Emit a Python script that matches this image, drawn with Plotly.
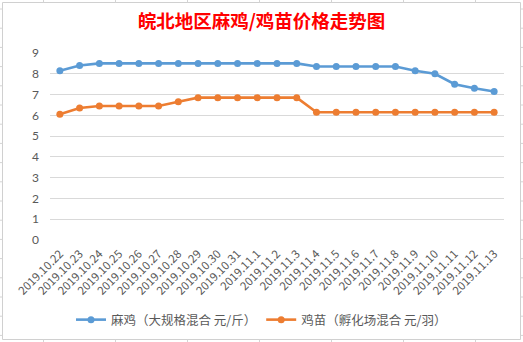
import plotly.graph_objects as go

dates = ["2019.10.22", "2019.10.23", "2019.10.24", "2019.10.25", "2019.10.26", "2019.10.27",
         "2019.10.28", "2019.10.29", "2019.10.30", "2019.10.31", "2019.11.1", "2019.11.2",
         "2019.11.3", "2019.11.4", "2019.11.5", "2019.11.6", "2019.11.7", "2019.11.8",
         "2019.11.9", "2019.11.10", "2019.11.11", "2019.11.12", "2019.11.13"]
maji = [8.15, 8.4, 8.5, 8.5, 8.5, 8.5, 8.5, 8.5, 8.5, 8.5, 8.5, 8.5, 8.5,
        8.35, 8.35, 8.35, 8.35, 8.35, 8.15, 8.0, 7.5, 7.3, 7.15]
jimiao = [6.05, 6.35, 6.45, 6.45, 6.45, 6.45, 6.65, 6.85, 6.85, 6.85, 6.85, 6.85, 6.85,
          6.15, 6.15, 6.15, 6.15, 6.15, 6.15, 6.15, 6.15, 6.15, 6.15]
name1 = "麻鸡（大规格混合 元/斤）"
name2 = "鸡苗（孵化场混合 元/羽）"
title = "皖北地区麻鸡/鸡苗价格走势图"
yticks = list(range(0, 10))

W, H = 523, 342
L, R, T, B = 50, 19, 53, 102
pw, ph = W - L - R, H - T - B

def px(x):
    return (x - L) / pw

def py(y):
    return (H - B - y) / ph

fig = go.Figure()
fig.add_trace(go.Scatter(x=list(range(len(dates))), y=maji, name=name1, mode="lines+markers",
                         line=dict(color="#5B9BD5", width=2.6),
                         marker=dict(color="#5B9BD5", size=7)))
fig.add_trace(go.Scatter(x=list(range(len(dates))), y=jimiao, name=name2, mode="lines+markers",
                         line=dict(color="#ED7D31", width=2.6),
                         marker=dict(color="#ED7D31", size=7)))

shapes = []
shapes.append(dict(type="rect", xref="paper", yref="paper", x0=px(2.5), x1=px(520.5),
                   y0=py(339.5), y1=py(2.5), line=dict(color="#D0D0D0", width=1),
                   fillcolor="rgba(0,0,0,0)", layer="below"))
for gx in [43, 115, 187, 259, 331, 403, 475]:
    shapes.append(dict(type="line", xref="paper", yref="paper", x0=px(gx + 0.5), x1=px(gx + 0.5),
                       y0=py(0), y1=py(2.5), line=dict(color="#D4D4D4", width=1)))
    shapes.append(dict(type="line", xref="paper", yref="paper", x0=px(gx + 0.5), x1=px(gx + 0.5),
                       y0=py(339.5), y1=py(342), line=dict(color="#D4D4D4", width=1)))
for k in range(18):
    gy = 9 + k * 19.2
    for xa, xb in [(0, 2.5), (520.5, 523)]:
        shapes.append(dict(type="line", xref="paper", yref="paper", x0=px(xa), x1=px(xb),
                           y0=py(gy), y1=py(gy), line=dict(color="#D4D4D4", width=1)))

fig.update_layout(
    width=W, height=H,
    margin=dict(l=L, r=R, t=T, b=B),
    paper_bgcolor="white", plot_bgcolor="white",
    title=dict(text=title, x=0.5, xref="container", xanchor="center",
               y=1 - 22 / H, yref="container", yanchor="middle",
               font=dict(family="Noto Sans CJK SC", size=18.5, color="#FF0000", weight=600)),
    xaxis=dict(range=[-0.5, len(dates) - 0.5], tickmode="array",
               tickvals=list(range(len(dates))), ticktext=dates, tickangle=-45,
               showgrid=False, zeroline=False, showline=False, ticks="",
               automargin=False, ticklabelstandoff=4,
               tickfont=dict(family="Noto Sans CJK SC", size=11.5, color="#595959")),
    yaxis=dict(range=[0, 9], tickmode="array", tickvals=yticks, ticks="",
               showgrid=True, gridcolor="#D9D9D9", gridwidth=1, zeroline=False,
               showline=False, ticklabelstandoff=10, automargin=False,
               tickfont=dict(family="Lato, Noto Sans", size=12, color="#595959")),
    legend=dict(orientation="h", x=0.5, xref="container", xanchor="center",
                y=1 - 320 / H, yref="container", yanchor="middle",
                font=dict(family="Noto Sans CJK SC", size=12.5, color="#595959"),
                itemwidth=30, tracegroupgap=0),
    shapes=shapes,
    showlegend=True,
)
fig.write_html("out.html")
